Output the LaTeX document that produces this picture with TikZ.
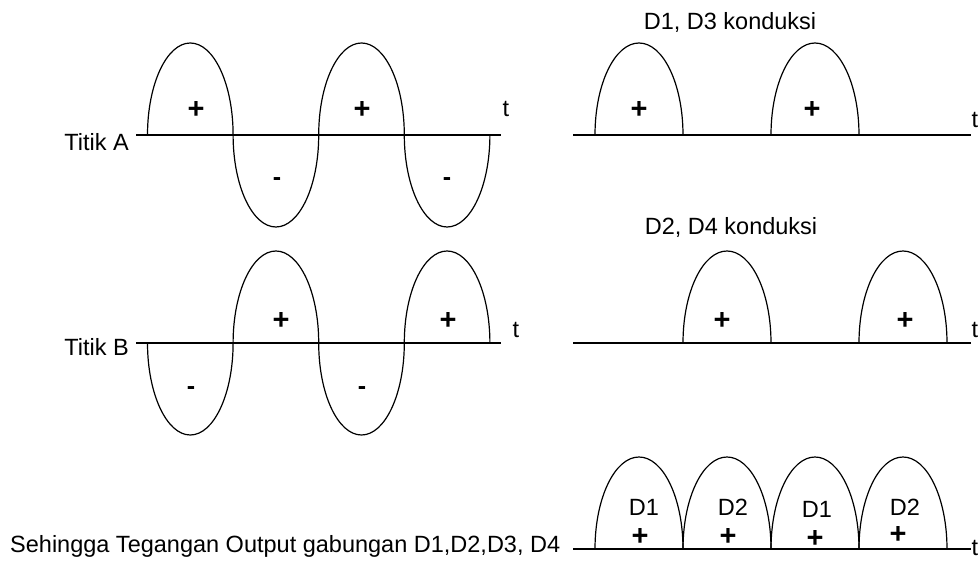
\documentclass[tikz,border=0pt]{standalone}
\usepackage{fontspec}
\setmainfont{Liberation Sans}
\usetikzlibrary{positioning}

\begin{document}
\begin{tikzpicture}[
    x=1pt, y=1pt,
    axis/.style={line width=1.6pt},
    wave/.style={line width=1.2pt},
    txt/.style={font=\fontsize{23.5}{28}\selectfont, inner sep=0pt},
    sign/.style={font=\fontsize{29}{32}\selectfont\bfseries, inner sep=0pt},
    minus/.style={font=\fontsize{25}{28}\selectfont\bfseries, inner sep=0pt}
]
    \useasboundingbox (0,0) rectangle (980,560);

    % input at point A and B
    \coordinate (a0) at (136,425);  \coordinate (a1) at (501,425);
    \coordinate (b0) at (136,217);  \coordinate (b1) at (501,217);
    \draw[axis] (a0) -- (a1);
    \draw[axis] (b0) -- (b1);
    \draw[wave] (147.5,425) \foreach \e in {0,360,0,360}
        {arc[start angle=180, end angle=\e, x radius=42.8, y radius=92]};
    \draw[wave] (147.5,217) \foreach \e in {360,0,360,0}
        {arc[start angle=180, end angle=\e, x radius=42.8, y radius=92]};

    \node[txt, anchor=east] (tA) at (129,418) {Titik A};
    \node[txt, anchor=east] (tB) at (129,213) {Titik B};
    \node[txt] (ta) at (506,451) {t};
    \node[txt] (tb) at (516,230) {t};

    \node[sign] (pa1) at (196,450) {+};
    \node[sign] (pa2) at (362,450) {+};
    \node[minus] (ma1) at (277,378) {-};
    \node[minus] (ma2) at (447,378) {-};
    \node[sign] (pb1) at (281,239) {+};
    \node[sign] (pb2) at (448,239) {+};
    \node[minus] (mb1) at (191,169) {-};
    \node[minus] (mb2) at (362,169) {-};

    % rectified halves
    \coordinate (c0) at (573,425);  \coordinate (c1) at (971,425);
    \coordinate (d0) at (573,217);  \coordinate (d1) at (971,217);
    \coordinate (e0) at (573,11);   \coordinate (e1) at (971,11);
    \draw[axis] (c0) -- (c1);
    \draw[axis] (d0) -- (d1);
    \draw[axis] (e0) -- (e1);
    \foreach \x in {595,771}
        \draw[wave] (\x,425) arc[start angle=180, end angle=0, x radius=44, y radius=92];
    \foreach \x in {683,859}
        \draw[wave] (\x,217) arc[start angle=180, end angle=0, x radius=44, y radius=92];
    \foreach \x in {595,683,771,859}
        \draw[wave] (\x,11) arc[start angle=180, end angle=0, x radius=44, y radius=92];

    \node[txt, anchor=base] (k13) at (730,530) {D1, D3 konduksi};
    \node[txt, anchor=base] (k24) at (731,325) {D2, D4 konduksi};
    \node[txt] (tc) at (975,440) {t};
    \node[txt] (td) at (975,230) {t};
    \node[txt] (te) at (975,12) {t};

    \node[sign] (pc1) at (639,450) {+};
    \node[sign] (pc2) at (812,450) {+};
    \node[sign] (pd1) at (722,239) {+};
    \node[sign] (pd2) at (905,239) {+};

    \node[txt] (e1a) at (644,53) {D1};
    \node[txt] (e2a) at (733,53) {D2};
    \node[txt] (e1b) at (817,51) {D1};
    \node[txt] (e2b) at (905,53) {D2};
    \node[sign] (pe1) at (640,23) {+};
    \node[sign] (pe2) at (728,23) {+};
    \node[sign] (pe3) at (815,21) {+};
    \node[sign] (pe4) at (898,25) {+};

    \node[txt, anchor=base west] (out) at (10,8)
        {Sehingga Tegangan Output gabungan D1,D2,D3, D4};
\end{tikzpicture}
\end{document}
